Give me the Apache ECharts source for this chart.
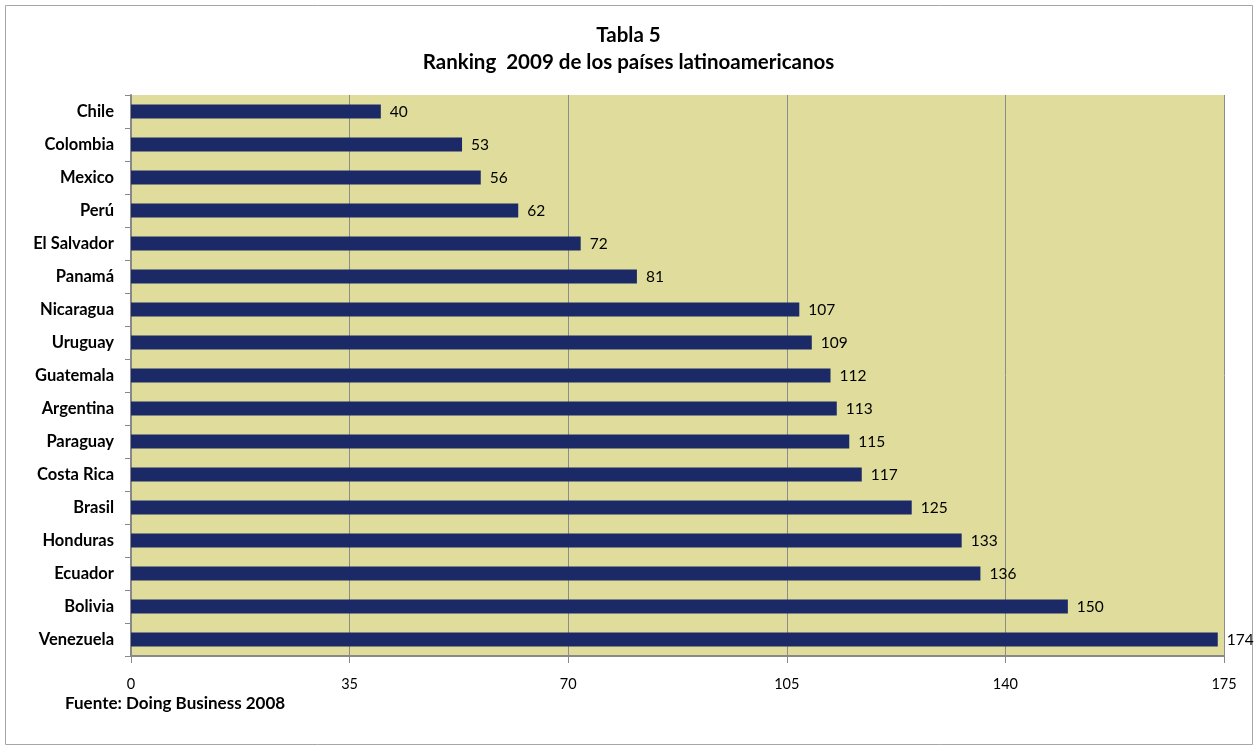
<!DOCTYPE html>
<html>
<head>
<meta charset="utf-8">
<script src="https://cdn.jsdelivr.net/npm/echarts@6/dist/echarts.min.js"></script>
<style>
  html, body { margin: 0; padding: 0; background: #fff; }
  #chart { width: 1257px; height: 749px; }
</style>
</head>
<body>
<div id="chart"></div>
<script>
// datos del gráfico
const paises = ['Chile', 'Colombia', 'Mexico', 'Perú', 'El Salvador', 'Panamá', 'Nicaragua',
  'Uruguay', 'Guatemala', 'Argentina', 'Paraguay', 'Costa Rica', 'Brasil', 'Honduras',
  'Ecuador', 'Bolivia', 'Venezuela']
const ranking = [40, 53, 56, 62, 72, 81, 107, 109, 112, 113, 115, 117, 125, 133, 136, 150, 174]
const ejeX = { min: 0, max: 175, interval: 35 }

const font = 'Lato, "Open Sans", sans-serif'
const myChart = echarts.init(document.getElementById('chart'), null, { renderer: 'canvas' })

const option = {
  backgroundColor: '#fff',
  animation: false,
  title: {
    text: 'Tabla 5\nRanking  2009 de los países latinoamericanos',
    left: 'center',
    top: 17,
    textStyle: {
      fontFamily: font,
      fontSize: 20.5,
      fontWeight: 'bold',
      color: '#000',
      lineHeight: 27
    }
  },
  grid: {
    left: 131,
    right: 33,
    top: 95,
    bottom: 93,
    show: true,
    backgroundColor: '#DFDC9C',
    borderWidth: 0
  },
  xAxis: {
    type: 'value',
    min: ejeX.min,
    max: ejeX.max,
    interval: ejeX.interval,
    axisLine: { show: true, lineStyle: { color: '#888', width: 2 } },
    axisTick: { show: true, length: 7, lineStyle: { color: '#888' } },
    axisLabel: { color: '#000', fontFamily: font, fontSize: 14.5, margin: 21 },
    splitLine: { show: true, lineStyle: { color: '#8c8c8c', width: 1 } }
  },
  yAxis: {
    type: 'category',
    data: paises,
    inverse: true,
    axisLine: { show: true, lineStyle: { color: '#888', width: 2 } },
    axisTick: { show: true, length: 6, lineStyle: { color: '#888' } },
    axisLabel: { color: '#000', fontFamily: font, fontSize: 16.5, fontWeight: 'bold', margin: 17 },
    splitLine: { show: false }
  },
  series: [{
    type: 'bar',
    data: ranking,
    barWidth: 14,
    itemStyle: { color: '#1B2A66' },
    label: {
      show: true,
      position: 'right',
      distance: 9,
      color: '#000',
      fontFamily: font,
      fontSize: 15.5
    }
  }],
  graphic: [
    {
      type: 'rect',
      shape: { x: 5.5, y: 5.5, width: 1247, height: 739 },
      style: { fill: 'none', stroke: '#a6a6a6', lineWidth: 1 },
      z: -1
    },
    {
      type: 'text',
      left: 65,
      top: 695,
      style: {
        text: 'Fuente: Doing Business 2008',
        fontFamily: font,
        fontSize: 17,
        fontWeight: 'bold',
        fill: '#000'
      }
    }
  ]
}
myChart.setOption(option)
</script>
</body>
</html>
